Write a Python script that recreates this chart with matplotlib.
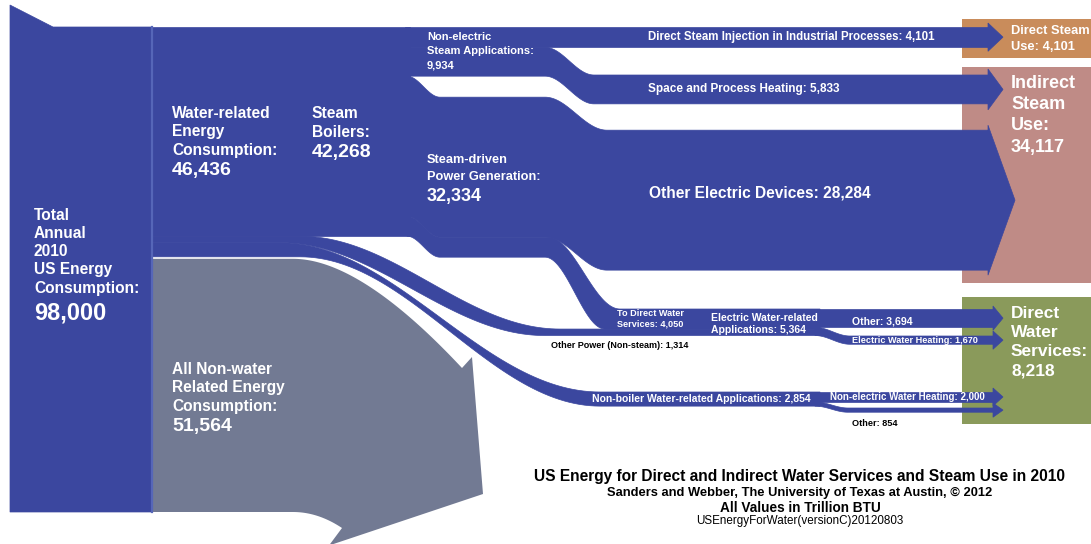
import numpy as np
import matplotlib.pyplot as plt

plt.rcParams['font.family'] = ['Liberation Sans', 'DejaVu Sans']
plt.rcParams['font.weight'] = 'bold'

# values in Trillion BTU
total_energy = 98000
water_related = 46436
non_water = 51564
steam_boilers = 42268
other_power = 1314
non_boiler = 2854
non_electric_steam = 9934
steam_power = 32334
direct_injection = 4101
space_heating = 5833
other_electric = 28284
to_direct_water = 4050
electric_water_apps = 5364
elec_other = 3694
elec_water_heating = 1670
nonelec_water_heating = 2000
nonboiler_other = 854
direct_steam_use = 4101
indirect_steam_use = 34117
direct_water_services = 8218

# colours
BLUE = '#3B479F'
BLUE_LINE = '#5666B8'
GRAY = '#727A93'
TAN = '#C98C5B'
PINK = '#BF8B86'
OLIVE = '#8A9A5B'

# layout (pixel units)
W, H = 1091, 544
S = 485 / total_energy       # px per Trillion BTU
TOP = 27
X_COL = 152
X_END = 988                  # steam arrows start here
X_END2 = 993                 # water arrows start here


def fmt(v):
    return f'{v:,}'


def curve(x0, y0, x1, y1, n=60):
    t = np.linspace(0, 1, n)
    return x0 + (x1 - x0) * t, y0 + (y1 - y0) * (1 - np.cos(np.pi * t)) / 2


def edge(pts):
    xs, ys = [], []
    for (x0, y0), (x1, y1) in zip(pts[:-1], pts[1:]):
        cx, cy = curve(x0, y0, x1, y1)
        xs.append(cx)
        ys.append(cy)
    return np.concatenate(xs), np.concatenate(ys)


def blue_fill(ax, xs, ys):
    # thin edge in the same colour hides seams between touching bands
    ax.fill(xs, ys, facecolor=BLUE, edgecolor=BLUE, lw=0.5, zorder=3)


def ribbon(ax, top, bottom):
    tx, ty = edge(top)
    bx, by = edge(bottom)
    blue_fill(ax, np.r_[tx, bx[::-1]], np.r_[ty, by[::-1]])


def band(ax, xs, tops, h):
    top = list(zip(xs, tops))
    bottom = [(x, y + h) for x, y in top]
    ribbon(ax, top, bottom)


def head(ax, x, y_top, h, tip, over=5):
    blue_fill(ax, [x, x + tip, x], [y_top - over, y_top + h / 2, y_top + h + over])


def bezier(p0, p1, p2, n=60):
    t = np.linspace(0, 1, n)[:, None]
    p = (1 - t) ** 2 * np.array(p0) + 2 * (1 - t) * t * np.array(p1) + t ** 2 * np.array(p2)
    return p[:, 0], p[:, 1]


def label(ax, x, y, lines, sizes, dy, color='white', weight='bold'):
    if np.isscalar(sizes):
        sizes = [sizes] * len(lines)
    for i, (txt, fs) in enumerate(zip(lines, sizes)):
        yy = y + dy[i] if not np.isscalar(dy) else y + dy * i
        ax.text(x, yy, txt, color=color, fontsize=fs, fontweight=weight,
                ha='left', va='center', zorder=5)


# band heights
h_w = water_related * S
h_nw = non_water * S
h_sb = steam_boilers * S
h_op = other_power * S
h_nb = non_boiler * S
h_ne = non_electric_steam * S
h_di = direct_injection * S
h_sh = space_heating * S
h_oe = other_electric * S
h_dw = to_direct_water * S
h_eo = elec_other * S
h_eh = elec_water_heating * S
h_nh = nonelec_water_heating * S
h_no = nonboiler_other * S

y_sb_bot = TOP + h_sb
y_w_bot = TOP + h_w
y_nw_bot = y_w_bot + h_nw

sp_top0 = TOP + h_ne          # steam power top at boiler split
sp_top1 = sp_top0 + 21        # after first drop
oe_top = sp_top1 + 33         # other electric devices
sh_top = 75                   # space heating after drop
ew_top = 309                  # electric water-related applications
nb_top = 392                  # non-boiler applications

fig = plt.figure(figsize=(W / 100, H / 100), dpi=100)
ax = fig.add_axes([0, 0, 1, 1])
ax.set_xlim(0, W)
ax.set_ylim(H, 0)
ax.axis('off')

# destination boxes
for (y0, y1, c) in [(19, 58, TAN), (67, 283, PINK), (297, 424, OLIVE)]:
    ax.add_patch(plt.Rectangle((962, y0), W - 962, y1 - y0, color=c, lw=0, zorder=1))

# left column (total)
blue_fill(ax, [10, 53, X_COL, X_COL, 10], [5, TOP, TOP, y_nw_bot, y_nw_bot])

# non-water arrow
gx1, gy1 = bezier((293, y_w_bot + 2), (360, y_w_bot + 2), (462, 368))
gx2, gy2 = bezier((342, 528), (318, y_nw_bot), (293, y_nw_bot))
gxs = np.r_[X_COL, gx1, 472, 483, 329, gx2, X_COL]
gys = np.r_[y_w_bot + 2, gy1, 357, 494, 545.5, gy2, y_nw_bot]
ax.fill(gxs, gys, color=GRAY, lw=0, zorder=2)

# water-related -> steam boilers
blue_fill(ax, [X_COL, 410, 410, X_COL], [TOP, TOP, y_sb_bot, y_sb_bot])

# non-electric steam: direct injection + space heating
band(ax, [405, X_END], [TOP, TOP], h_di)
head(ax, X_END, TOP, h_di, 15, over=4)
band(ax, [405, 545, 594, X_END], [TOP + h_di, TOP + h_di, sh_top, sh_top], h_sh)
head(ax, X_END, sh_top, h_sh, 15, over=6)

# steam-driven power: other electric devices
band(ax, [407, 440, 545, 607, X_END], [sp_top0, sp_top1, sp_top1, oe_top, oe_top], h_oe)
head(ax, X_END, oe_top, h_oe, 27, over=5)

# steam-driven power: to direct water services
ribbon(ax,
       [(407, sp_top0 + h_oe), (440, sp_top1 + h_oe), (548, sp_top1 + h_oe), (620, ew_top), (820, ew_top)],
       [(407, sp_top0 + h_oe + h_dw), (440, sp_top1 + h_oe + h_dw), (545, sp_top1 + h_oe + h_dw),
        (605, ew_top + h_dw), (820, ew_top + h_dw)])

# other power (non-steam)
ribbon(ax,
       [(X_COL, y_sb_bot), (300, y_sb_bot), (560, ew_top + h_dw), (820, ew_top + h_dw)],
       [(X_COL, y_sb_bot + h_op), (280, y_sb_bot + h_op), (545, ew_top + h_dw + h_op),
        (820, ew_top + h_dw + h_op)])

# electric water-related split
band(ax, [815, X_END2], [ew_top, ew_top], h_eo)
head(ax, X_END2, ew_top, h_eo, 10, over=3)
band(ax, [815, 850, X_END2], [ew_top + h_eo, 336, 336], h_eh)
head(ax, X_END2, 336, h_eh, 10, over=5)

# non-boiler water-related applications
ribbon(ax,
       [(X_COL, y_sb_bot + h_op), (280, y_sb_bot + h_op), (600, nb_top), (820, nb_top)],
       [(X_COL, y_w_bot), (300, y_w_bot), (600, nb_top + h_nb), (820, nb_top + h_nb)])
band(ax, [815, X_END2], [nb_top, nb_top], h_nh)
head(ax, X_END2, nb_top, h_nh, 10, over=4)
band(ax, [815, 848, X_END2], [nb_top + h_nh, 408, 408], h_no)
head(ax, X_END2, 408, h_no, 10, over=5)

# separator line of the total column
ax.plot([X_COL, X_COL], [TOP, y_nw_bot], color=BLUE_LINE, lw=1.6, zorder=4)

# ---- labels ----
label(ax, 34, 215, ['Total', 'Annual', '2010', 'US Energy', 'Consumption:', fmt(total_energy)],
      [11.2] * 5 + [17], [0, 18.3, 36.6, 54.9, 73.2, 98])
label(ax, 172, 113, ['Water-related', 'Energy', 'Consumption:', fmt(water_related)],
      [11.2, 11.2, 11.2, 14], [0, 18.5, 37, 58])
label(ax, 312, 114, ['Steam', 'Boilers:', fmt(steam_boilers)], [11.2, 11.2, 14], [0, 18.5, 39])
label(ax, 172, 369, ['All Non-water', 'Related Energy', 'Consumption:', fmt(non_water)],
      [11.2, 11.2, 11.2, 14], [0, 18.5, 37, 57])
label(ax, 427, 37, ['Non-electric', 'Steam Applications:', fmt(non_electric_steam)], 8, 14.5)
label(ax, 427, 160, ['Steam-driven', 'Power Generation:', fmt(steam_power)],
      [9.2, 9.2, 13], [0, 17, 36])
label(ax, 648, 37, [f'Direct Steam Injection in Industrial Processes: {fmt(direct_injection)}'], 8.3, 0)
label(ax, 648, 89, [f'Space and Process Heating: {fmt(space_heating)}'], 8.5, 0)
label(ax, 649, 193, [f'Other Electric Devices: {fmt(other_electric)}'], 11.2, 0)
label(ax, 617, 314, ['To Direct Water', f'Services: {fmt(to_direct_water)}'], 6.6, 9.5)
label(ax, 711, 318, ['Electric Water-related', f'Applications: {fmt(electric_water_apps)}'], 7.5, 12)
label(ax, 852, 321, [f'Other: {fmt(elec_other)}'], 7.6, 0)
label(ax, 852, 340.5, [f'Electric Water Heating: {fmt(elec_water_heating)}'], 6.6, 0)
label(ax, 551, 346, [f'Other Power (Non-steam): {fmt(other_power)}'], 6.5, 0, color='black')
label(ax, 592, 399, [f'Non-boiler Water-related Applications: {fmt(non_boiler)}'], 7.5, 0)
label(ax, 830, 397, [f'Non-electric Water Heating: {fmt(nonelec_water_heating)}'], 7.0, 0)
label(ax, 852, 424, [f'Other: {fmt(nonboiler_other)}'], 6.6, 0, color='black')

label(ax, 1011, 31, ['Direct Steam', f'Use: {fmt(direct_steam_use)}'], 9.3, 16.5)
label(ax, 1011, 83, ['Indirect', 'Steam', 'Use:', fmt(indirect_steam_use)], 13, 21.5)
label(ax, 1011, 313, ['Direct', 'Water', 'Services:', fmt(direct_water_services)], 12.5, 19.5)

# title block
ax.text(800, 476, 'US Energy for Direct and Indirect Water Services and Steam Use in 2010',
        ha='center', va='center', fontsize=11.2, fontweight='bold', zorder=5)
ax.text(800, 492.5, 'Sanders and Webber, The University of Texas at Austin, \u00a9 2012',
        ha='center', va='center', fontsize=9.3, fontweight='bold', zorder=5)
ax.text(800, 507.5, 'All Values in Trillion BTU',
        ha='center', va='center', fontsize=9.8, fontweight='bold', zorder=5)
ax.text(800, 521, 'USEnergyForWater(versionC)20120803',
        ha='center', va='center', fontsize=8.4, fontweight='normal', zorder=5)

fig.savefig('out.png', dpi=100)
